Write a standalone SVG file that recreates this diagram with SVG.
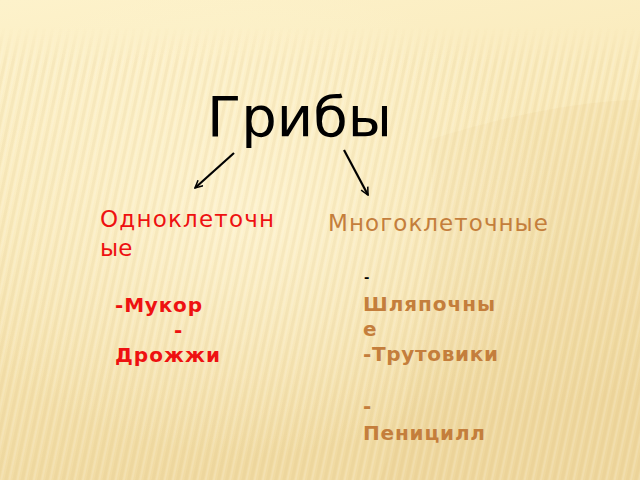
<svg xmlns="http://www.w3.org/2000/svg" width="640" height="480" viewBox="0 0 640 480">
  <defs>
    <linearGradient id="bg" x1="0" y1="0" x2="0.25" y2="1">
      <stop offset="0" stop-color="#FDF2CB"/>
      <stop offset="0.45" stop-color="#F9E9B9"/>
      <stop offset="1" stop-color="#F1DBA3"/>
    </linearGradient>
    <radialGradient id="glow" cx="0.38" cy="0.45" r="0.5">
      <stop offset="0" stop-color="#FFF6D6" stop-opacity="0.75"/>
      <stop offset="1" stop-color="#FFF6D6" stop-opacity="0"/>
    </radialGradient>
    <linearGradient id="fadeTop" x1="0" y1="0" x2="0" y2="1">
      <stop offset="0" stop-color="#fff" stop-opacity="0"/>
      <stop offset="0.08" stop-color="#fff" stop-opacity="1"/>
      <stop offset="1" stop-color="#fff" stop-opacity="1"/>
    </linearGradient>
    <mask id="stripeMask">
      <rect x="0" y="26" width="640" height="454" fill="url(#fadeTop)"/>
    </mask>
    <pattern id="stripes" width="8" height="8" patternUnits="userSpaceOnUse" patternTransform="rotate(12)">
      <rect x="0" y="0" width="3" height="8" fill="#D9B978" fill-opacity="0.12"/>
      <rect x="4" y="0" width="2" height="8" fill="#FFFFFF" fill-opacity="0.14"/>
    </pattern>
    <marker id="arr" viewBox="0 0 12 12" refX="11" refY="6" markerWidth="9" markerHeight="9" markerUnits="userSpaceOnUse" orient="auto">
      <path d="M1,1 L11,6 L1,11" fill="none" stroke="#000" stroke-width="2"/>
    </marker>
    <style>
      .sans { font-family: "DejaVu Sans", "Noto Sans", sans-serif; }
      .title { font-size: 56px; fill: #000; }
      .head { font-size: 23px; }
      .red { fill: #EE1111; }
      .brown { fill: #C47E3C; }
      .item { font-size: 20px; font-weight: bold; }
      .conn { stroke: #000; stroke-width: 2.2; fill: none; marker-end: url(#arr); }
    </style>
  </defs>

  <!-- background -->
  <rect x="0" y="0" width="640" height="480" fill="url(#bg)"/>
  <path d="M430,140 C520,110 600,100 640,100 L640,480 L380,480 C420,380 440,260 430,140 Z" fill="#E9CF92" fill-opacity="0.18"/>
  <rect x="0" y="0" width="640" height="480" fill="url(#glow)"/>
  <rect x="0" y="0" width="640" height="480" fill="url(#stripes)" mask="url(#stripeMask)"/>

  <g id="connectors">
    <line class="conn" x1="234" y1="153" x2="195" y2="188"/>
    <line class="conn" x1="344" y1="150" x2="368" y2="195"/>
  </g>

  <g id="title">
    <text class="sans title" x="207" y="136" textLength="185" lengthAdjust="spacing">Грибы</text>
  </g>

  <g id="unicellular">
    <text class="sans head red" x="100" y="227" textLength="174" lengthAdjust="spacing">Одноклеточн</text>
    <text class="sans head red" x="100" y="256">ые</text>
  </g>

  <g id="multicellular">
    <text class="sans head brown" x="328" y="231" textLength="220" lengthAdjust="spacing">Многоклеточные</text>
  </g>

  <g id="unicellular-list">
    <text class="sans item red" x="115" y="312" textLength="87" lengthAdjust="spacing">-Мукор</text>
    <text class="sans item red" x="174" y="337">-</text>
    <text class="sans item red" x="115" y="362" textLength="105" lengthAdjust="spacing">Дрожжи</text>
  </g>

  <g id="multicellular-list">
    <text class="sans" x="364" y="282" font-size="13" font-weight="bold" fill="#000">-</text>
    <text class="sans item brown" x="363" y="311" textLength="132" lengthAdjust="spacing">Шляпочны</text>
    <text class="sans item brown" x="363" y="336">е</text>
    <text class="sans item brown" x="363" y="361" textLength="135" lengthAdjust="spacing">-Трутовики</text>
    <text class="sans item brown" x="363" y="413">-</text>
    <text class="sans item brown" x="363" y="440" textLength="122" lengthAdjust="spacing">Пеницилл</text>
  </g>
</svg>
